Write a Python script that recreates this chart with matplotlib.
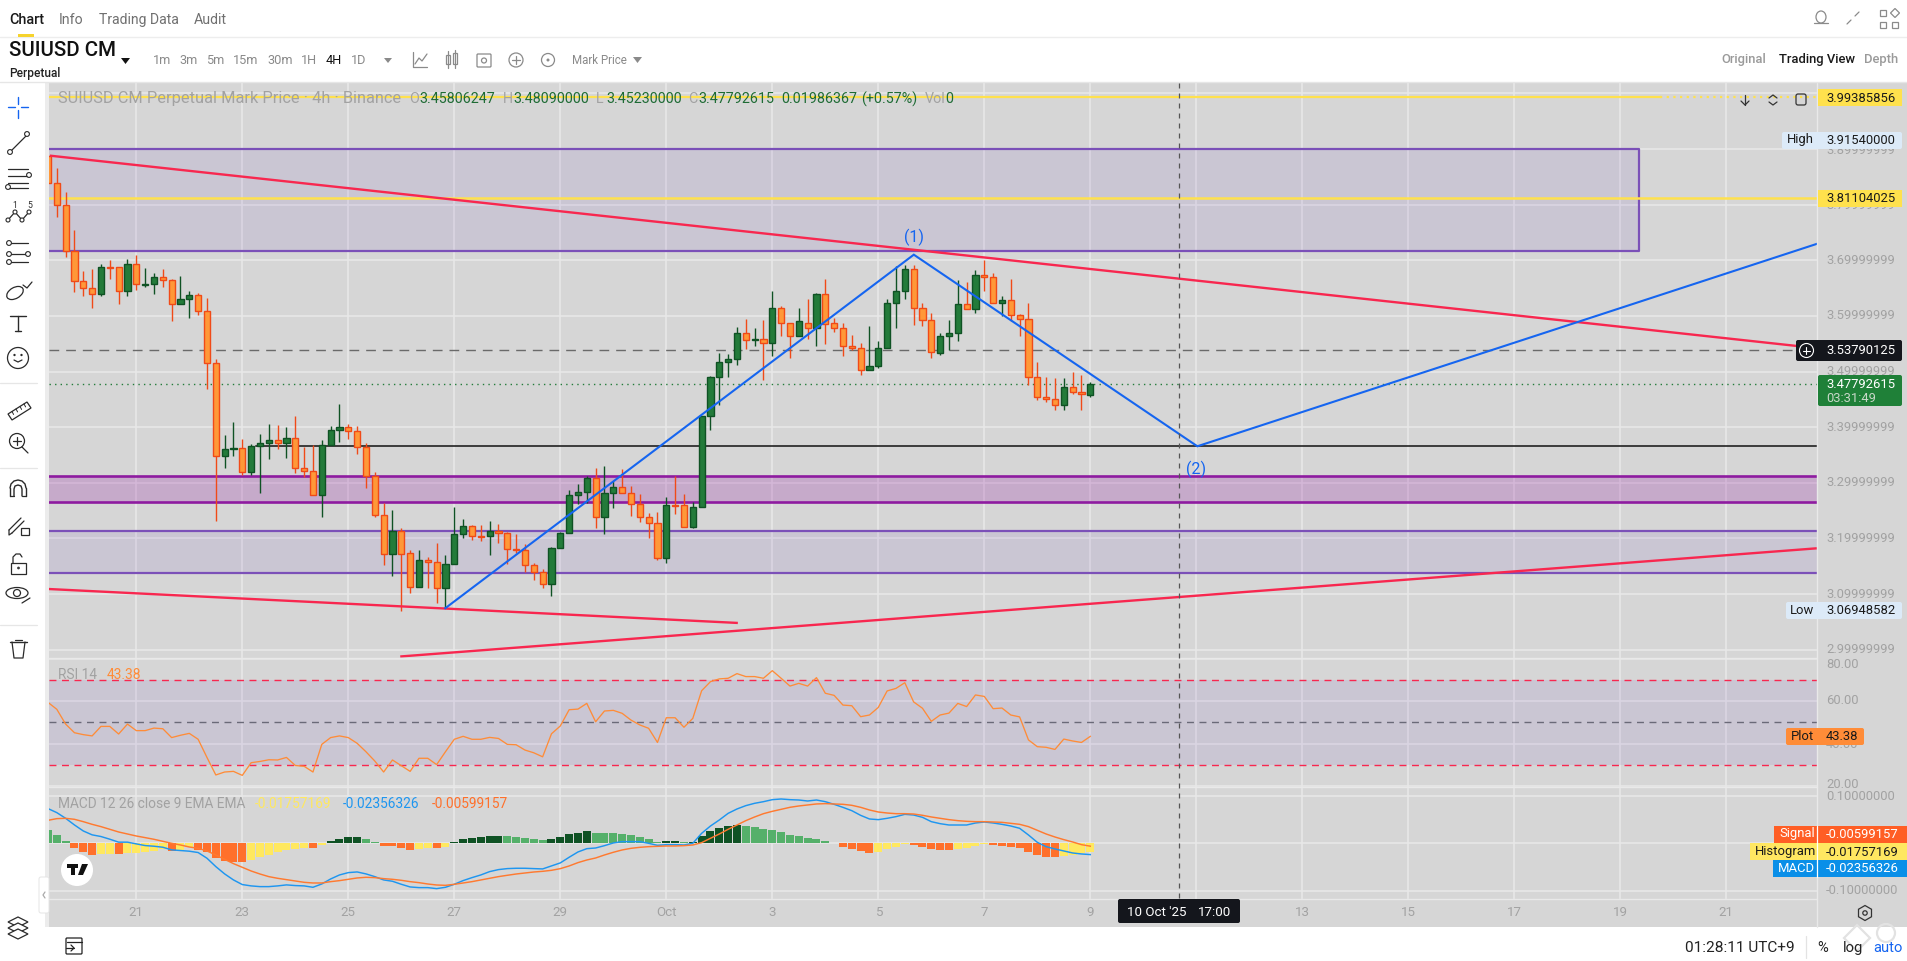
import matplotlib
matplotlib.use("Agg")
import matplotlib.pyplot as plt
from matplotlib.patches import Rectangle, Circle, FancyBboxPatch, Polygon, Ellipse, RegularPolygon

plt.rcParams['font.family'] = ['Roboto', 'DejaVu Sans']

# ---------- data ----------
open_ = [3.888,3.838,3.799,3.716,3.662,3.650,3.639,3.687,3.687,3.644,3.694,3.656,3.657,3.669,3.664,3.621,3.630,3.637,3.608,3.515,
 3.348,3.360,3.362,3.319,3.366,3.371,3.376,3.371,3.380,3.326,3.321,3.278,3.367,3.394,3.400,3.393,3.364,3.312,3.242,3.172,
 3.213,3.173,3.112,3.161,3.157,3.110,3.154,3.207,3.222,3.204,3.204,3.213,3.209,3.181,3.179,3.152,3.139,3.118,3.182,3.209,
 3.278,3.283,3.308,3.238,3.281,3.292,3.281,3.261,3.238,3.227,3.164,3.260,3.260,3.220,3.256,3.420,3.490,3.517,3.522,3.569,
 3.556,3.558,3.552,3.615,3.587,3.563,3.588,3.578,3.639,3.587,3.579,3.545,3.543,3.502,3.509,3.542,3.623,3.644,3.684,3.614,
 3.592,3.533,3.563,3.570,3.621,3.612,3.673,3.669,3.623,3.628,3.601,3.594,3.490,3.454,3.450,3.439,3.473,3.463,3.458]
high = [3.890,3.865,3.823,3.754,3.680,3.685,3.693,3.700,3.687,3.703,3.709,3.686,3.677,3.684,3.667,3.672,3.644,3.641,3.632,3.522,
 3.385,3.409,3.378,3.369,3.388,3.406,3.404,3.400,3.420,3.365,3.367,3.377,3.402,3.442,3.406,3.402,3.371,3.319,3.264,3.251,
 3.218,3.179,3.179,3.166,3.192,3.170,3.257,3.234,3.224,3.224,3.231,3.226,3.211,3.208,3.190,3.155,3.145,3.185,3.212,3.287,
 3.298,3.313,3.327,3.330,3.303,3.324,3.294,3.279,3.245,3.248,3.275,3.312,3.279,3.265,3.420,3.492,3.533,3.531,3.580,3.594,
 3.578,3.593,3.645,3.618,3.587,3.614,3.630,3.642,3.667,3.597,3.587,3.565,3.551,3.581,3.554,3.630,3.689,3.691,3.691,3.623,
 3.606,3.569,3.593,3.664,3.660,3.682,3.700,3.677,3.635,3.667,3.603,3.623,3.517,3.490,3.488,3.488,3.500,3.493,3.481]
low = [3.838,3.778,3.706,3.643,3.635,3.615,3.636,3.667,3.622,3.636,3.647,3.652,3.640,3.651,3.590,3.621,3.597,3.602,3.469,3.232,
 3.327,3.349,3.314,3.314,3.282,3.343,3.361,3.345,3.318,3.311,3.278,3.239,3.367,3.374,3.378,3.351,3.290,3.239,3.153,3.133,
 3.0695,3.101,3.112,3.110,3.083,3.074,3.154,3.201,3.198,3.196,3.171,3.191,3.154,3.173,3.139,3.126,3.110,3.097,3.182,3.209,
 3.261,3.263,3.219,3.207,3.254,3.281,3.241,3.230,3.201,3.161,3.155,3.243,3.220,3.218,3.256,3.394,3.440,3.491,3.512,3.541,
 3.546,3.484,3.527,3.563,3.525,3.563,3.558,3.545,3.550,3.571,3.527,3.538,3.494,3.502,3.507,3.542,3.579,3.631,3.584,3.581,
 3.525,3.529,3.539,3.554,3.612,3.606,3.644,3.623,3.599,3.590,3.564,3.476,3.448,3.445,3.431,3.430,3.459,3.431,3.454]
close = [3.838,3.799,3.716,3.662,3.650,3.639,3.687,3.686,3.644,3.694,3.657,3.657,3.669,3.664,3.621,3.630,3.637,3.608,3.515,3.348,
 3.360,3.362,3.319,3.366,3.371,3.376,3.371,3.380,3.326,3.321,3.278,3.367,3.394,3.400,3.393,3.364,3.312,3.242,3.172,3.213,
 3.172,3.112,3.161,3.157,3.110,3.154,3.207,3.222,3.204,3.203,3.213,3.209,3.181,3.179,3.152,3.139,3.118,3.182,3.209,3.278,
 3.283,3.308,3.238,3.281,3.292,3.281,3.261,3.238,3.227,3.164,3.260,3.259,3.220,3.256,3.420,3.490,3.517,3.522,3.569,3.556,
 3.558,3.552,3.615,3.587,3.563,3.590,3.578,3.639,3.585,3.579,3.545,3.543,3.502,3.509,3.542,3.623,3.644,3.684,3.614,3.592,
 3.535,3.563,3.570,3.621,3.612,3.673,3.669,3.623,3.628,3.601,3.594,3.490,3.454,3.450,3.439,3.473,3.463,3.459,3.4779]
rsi = [59.5,56.2,49.2,45.1,44.2,43.6,48.1,48.1,44.5,49.2,46.1,46.1,47.3,47.0,42.8,43.9,44.8,42.0,33.4,25.1,
 26.5,26.8,24.9,30.9,31.5,32.3,32.2,33.4,29.6,29.2,26.5,39.6,42.8,43.6,42.8,40.1,36.1,31.7,26.5,32.2,
 29.5,26.8,33.0,33.0,30.0,36.1,42.0,43.4,42.0,42.0,42.9,42.4,39.6,39.4,36.9,35.6,33.7,44.6,48.3,56.0,
 56.3,59.0,50.3,55.4,55.7,54.3,51.1,48.8,47.2,40.5,52.2,52.2,47.7,51.9,65.0,69.3,70.6,70.9,73.1,71.7,
 71.7,70.9,74.5,70.9,67.2,68.5,67.2,71.2,63.8,62.8,58.2,57.9,52.7,53.5,57.1,64.9,66.1,68.8,59.7,56.7,
 50.5,53.5,54.4,59.0,57.5,63.0,62.3,56.5,56.8,53.5,52.6,41.7,38.5,38.2,37.2,42.1,41.2,40.5,43.38]
hist = [.0279,.0174,.0049,-.0098,-.0181,-.0244,-.0223,-.0223,-.0223,-.0209,-.0209,-.0174,-.0160,-.0125,-.0160,-.0139,-.0084,-.0139,-.0174,-.0307,
 -.0369,-.0390,-.0390,-.0349,-.0286,-.0244,-.0174,-.0139,-.0118,-.0098,-.0098,-.0035,.0049,.0091,.0132,.0132,.0091,.0028,-.0049,-.0063,
 -.0098,-.0139,-.0118,-.0105,-.0098,-.0077,.0028,.0091,.0112,.0132,.0153,.0153,.0153,.0132,.0112,.0091,.0070,.0091,.0132,.0195,
 .0216,.0258,.0216,.0216,.0216,.0195,.0174,.0132,.0091,.0028,.0049,.0049,.0028,.0028,.0153,.0258,.0321,.0362,.0383,.0362,
 .0341,.0300,.0279,.0237,.0174,.0153,.0112,.0091,.0049,.0007,-.0077,-.0118,-.0160,-.0202,-.0181,-.0118,-.0077,-.0007,-.0035,-.0077,
 -.0118,-.0139,-.0139,-.0118,-.0098,-.0056,-.0007,-.0035,-.0056,-.0077,-.0098,-.0181,-.0244,-.0286,-.0286,-.0265,-.0244,-.0209,-.0176]
hist_kind = ("LLLOOOYYOYYYYYOYYOOOOOOYYYYYYYOYDDDDLLOOOOYYOYDDDDDDLLLLLDDDDDL"
             "LLLLLLL" "DD" "L" "DDDDDD" "LLLLLLLLLLL" "OOOO" "YYYY" "OOOOO" "YYYY" "OOOOOOOO" "YYYY")
macd = [.0727,.0642,.0523,.0384,.0258,.0177,.0142,.0086,.0024,.0024,-.0012,-.0047,-.0061,-.0082,-.0137,-.0151,-.0165,-.0193,-.0312,-.0487,
 -.0640,-.0766,-.0863,-.0891,-.0906,-.0906,-.0891,-.0870,-.0884,-.0891,-.0920,-.0850,-.0746,-.0662,-.0613,-.0599,-.0640,-.0697,-.0766,-.0794,
 -.0857,-.0913,-.0927,-.0927,-.0948,-.0920,-.0857,-.0780,-.0718,-.0662,-.0592,-.0550,-.0529,-.0522,-.0522,-.0529,-.0536,-.0473,-.0410,-.0292,
 -.0181,-.0112,-.0098,-.0049,.0007,.0035,.0035,.0035,0,-.0042,-.0028,-.0028,-.0035,0,.0209,.0362,.0488,.0627,.0718,.0788,
 .0837,.0871,.0913,.0927,.0913,.0906,.0885,.0906,.0871,.0815,.0752,.0683,.0585,.0509,.0495,.0523,.0558,.0606,.0592,.0544,
 .0453,.0411,.0383,.0383,.0383,.0425,.0446,.0425,.0397,.0362,.0314,.0174,.0021,-.0070,-.0118,-.0160,-.0202,-.0223,-.0236]
signal = [.0481,.0516,.0523,.0502,.0453,.0397,.0349,.0293,.0237,.0195,.0153,.0119,.0084,.0042,0,-.0035,-.0077,-.0105,-.0160,-.0244,
 -.0335,-.0425,-.0502,-.0579,-.0642,-.0697,-.0732,-.0760,-.0788,-.0816,-.0830,-.0830,-.0802,-.0781,-.0753,-.0725,-.0711,-.0718,-.0739,-.0753,
 -.0774,-.0802,-.0823,-.0851,-.0872,-.0879,-.0858,-.0830,-.0802,-.0767,-.0732,-.0697,-.0669,-.0642,-.0621,-.0600,-.0586,-.0565,-.0530,-.0474,
 -.0404,-.0349,-.0307,-.0244,-.0188,-.0139,-.0105,-.0084,-.0070,-.0063,-.0056,-.0056,-.0049,-.0035,.0014,.0105,.0195,.0293,.0383,.0474,
 .0551,.0620,.0669,.0711,.0753,.0781,.0802,.0823,.0830,.0823,.0816,.0795,.0753,.0697,.0655,.0634,.0620,.0620,.0613,.0586,
 .0551,.0523,.0495,.0474,.0460,.0453,.0453,.0446,.0439,.0418,.0397,.0349,.0272,.0195,.0132,.0077,.0028,-.0028,-.0060]

last_day = 39.0                    # 9 Oct, on a continuous day axis where Oct 1 = 31
candle_days = 1 / 6
days = [last_day - (len(close) - 1 - i) * candle_days for i in range(len(close))]

date_ticks = [21, 23, 25, 27, 29, 31, 33, 35, 37, 39, 41, 43, 45, 47, 49, 51]
date_labels = ['21', '23', '25', '27', '29', 'Oct', '3', '5', '7', '9', '11', '13', '15', '17', '19', '21']
price_ticks = [3.0, 3.1, 3.2, 3.3, 3.4, 3.5, 3.6, 3.7, 3.8, 3.9, 4.0]
rsi_ticks = [20, 40, 60, 80]
macd_ticks = [-0.1, 0, 0.1]

yellow_levels = [3.99385856, 3.81104025]
last_price = 3.47792615
cross_price = 3.53790125
cross_day = 40.68
support_level = 3.3656
support_from = 23.26
zone_upper = (3.9, 3.7166, 19.0, 49.35)
zone_magenta = (3.3123, 3.2662)
zone_purple = (3.2135, 3.1386)
trend_top = ([19.37, 52.33], [3.888, 3.5459])
trend_low = ([19.35, 32.35], [3.109, 3.048])
trend_rise = ([25.98, 52.71], [2.9877, 3.1822])
wave_days = [26.83, 35.67, 41.02, 52.72]
wave_price = [3.0745, 3.710, 3.3656, 3.7298]

# ---------- layout ----------
W, H = 1908, 961
L, R, TOP, M1, M2, M3, BOT = 49, 1817, 83, 658, 787, 899, 927
PANEL = '#D6D6D6'; GRID = '#E9E9E9'; GREY = '#A2A2A2'
UP, UPE = '#237B3A', '#0F5224'
DN, DNE = '#FF9838', '#F04A18'
RED = '#F8274F'; BLUE = '#1565F0'
XLIM = (21 + (L - 136.3) / 53, 21 + (R - 136.3) / 53)

fig = plt.figure(figsize=(W / 100, H / 100), dpi=100, facecolor='white')

def panel(y0, y1, ylim):
    ax = fig.add_axes([L / W, 1 - y1 / H, (R - L) / W, (y1 - y0) / H], facecolor=PANEL)
    ax.set_xlim(*XLIM); ax.set_ylim(*ylim)
    for s in ax.spines.values():
        s.set_visible(False)
    ax.set_xticks([]); ax.set_yticks([])
    for d in date_ticks:
        ax.axvline(d, color=GRID, lw=1.1, zorder=0)
    return ax

# ----- price panel
ax = panel(TOP, M1, (2.985, 4.0186))
for p in price_ticks:
    ax.axhline(p, color=GRID, lw=1.1, zorder=0)
PURPLE, MAG = '#7B50B8', '#8E1BA0'
t, b, a, e = zone_upper
ax.fill_between([a, e], b, t, color='#7E57C2', alpha=.125, lw=0, zorder=1)
ax.plot([a, e, e, a, a], [t, t, b, b, t], color=PURPLE, lw=1.6, zorder=1.2, clip_on=True)
ax.axhspan(zone_magenta[1], zone_magenta[0], color='#941CA3', alpha=.235, lw=0, zorder=1)
for v in zone_magenta:
    ax.axhline(v, color=MAG, lw=1.9, zorder=1.2)
ax.axhspan(zone_purple[1], zone_purple[0], color='#7E57C2', alpha=.125, lw=0, zorder=1)
for v in zone_purple:
    ax.axhline(v, color=PURPLE, lw=1.6, zorder=1.2)
ax.plot([XLIM[0], 49.75], [yellow_levels[0]] * 2, color='#FFE14D', lw=1.6, zorder=1.5)
ax.plot([49.75, XLIM[1]], [yellow_levels[0]] * 2, color='#FFE14D', lw=1.6, ls=(0, (1, 2)), zorder=1.5)
ax.axhline(yellow_levels[1], color='#FFE14D', lw=1.8, zorder=1.5)
ax.axhline(cross_price, color='#6A6A6A', lw=1.0, ls=(0, (7, 5)), zorder=1.6)
ax.axhline(last_price, color='#237B3A', lw=1.0, ls=(0, (1, 3)), zorder=1.6)
ax.plot([support_from, XLIM[1]], [support_level] * 2, color='#111111', lw=1.1, zorder=1.7)

ax.vlines([d for d, o, c in zip(days, open_, close) if c >= o],
          [l for l, o, c in zip(low, open_, close) if c >= o],
          [h for h, o, c in zip(high, open_, close) if c >= o], color=UPE, lw=1.0, zorder=3)
ax.vlines([d for d, o, c in zip(days, open_, close) if c < o],
          [l for l, o, c in zip(low, open_, close) if c < o],
          [h for h, o, c in zip(high, open_, close) if c < o], color=DNE, lw=1.0, zorder=3)
for d, o, c in zip(days, open_, close):
    up = c >= o
    ax.bar(d, abs(c - o), bottom=min(o, c), width=0.115, color=UP if up else DN,
           edgecolor=UPE if up else DNE, lw=1.0, zorder=3.2)

for xs, ys in (trend_top, trend_low, trend_rise):
    ax.plot(xs, ys, color=RED, lw=1.7, zorder=4, solid_capstyle='butt')
ax.plot(wave_days, wave_price, color=BLUE, lw=1.5, zorder=4.2, solid_joinstyle='miter')
ax.text(wave_days[1], wave_price[1] + .016, '(1)', color=BLUE, fontsize=11.5, ha='center', va='bottom', zorder=5)
ax.text(wave_days[2] - .02, wave_price[2] - .026, '(2)', color=BLUE, fontsize=11.5, ha='center', va='top', zorder=5)

# ----- RSI panel
ax2 = panel(M1, M2, (19.4, 80.5))
for r in rsi_ticks:
    ax2.axhline(r, color=GRID, lw=1.1, zorder=0)
ax2.axhspan(30, 70, color='#7E57C2', alpha=.125, lw=0, zorder=1)
for r in (30, 70):
    ax2.axhline(r, color=RED, lw=1.0, ls=(0, (5, 4)), zorder=2)
ax2.axhline(50, color='#6A6A78', lw=1.0, ls=(0, (5, 4)), zorder=2)
ax2.plot(days, rsi, color='#FF8C38', lw=0.95, zorder=3)

# ----- MACD panel
ax3 = panel(M2, M3, (-0.1165, 0.1178))
for m in macd_ticks:
    ax3.axhline(m, color=GRID, lw=1.1, zorder=0)
kinds = {'D': '#0F5224', 'L': '#55B06A', 'O': '#FF702B', 'Y': '#FFE85F'}
ax3.bar(days, hist, width=0.15, color=[kinds[k] for k in hist_kind], lw=0, zorder=2)
ax3.plot(days, macd, color='#1E96F0', lw=1.05, zorder=3)
ax3.plot(days, signal, color='#FF7A30', lw=1.05, zorder=3.2)

# ---------- overlay for the page furniture ----------
ov = fig.add_axes([0, 0, 1, 1], facecolor='none', zorder=20)
ov.set_xlim(0, W); ov.set_ylim(H, 0); ov.axis('off')

def rect(x0, y0, x1, y1, c, z=1, **k):
    ov.add_patch(Rectangle((x0, y0), x1 - x0, y1 - y0, fc=c, ec='none', zorder=z, **k))
def box(x0, y0, x1, y1, c, z=2):
    ov.add_patch(FancyBboxPatch((x0 + 2, y0 + 2), x1 - x0 - 4, y1 - y0 - 4, boxstyle='round,pad=2',
                                fc=c, ec='none', zorder=z))
def txt(x, y, s, c='#1A1A1A', fs=9.4, ha='left', w='normal', z=5, **k):
    ov.text(x, y, s, color=c, fontsize=fs, ha=ha, va='center', fontweight=w, zorder=z, **k)
def ln(xs, ys, c='#2A2A2A', lw=0.9, z=4, **k):
    ov.plot(xs, ys, color=c, lw=lw, zorder=z, solid_capstyle='round', **k)

rect(R, TOP, W, BOT, PANEL, z=0.5)      # right scale column
rect(L, M3, R, BOT, PANEL, z=0.5)       # time axis row
rect(45, TOP, L, BOT, '#ECECEC', z=0.5)
for y in (M1, M2):
    ln([L, R], [y, y], GRID, 1.0, z=0.8)
ln([L, R], [M3, M3], GRID, 1.0, z=0.8)
ln([R, R], [TOP, BOT], GRID, 1.0, z=0.8)
ln([0, W], [37, 37], '#EDEDED', 1.0, z=0.8)
ln([0, W], [82, 82], '#E6E6E6', 1.0, z=0.8)

# tabs
txt(9, 20, 'Chart', '#1A1A1A', 10.4, w='medium')
txt(59, 20, 'Info', '#707070', 10.2)
txt(99, 20, 'Trading Data', '#707070', 10.1)
txt(194, 20, 'Audit', '#707070', 10.2)
rect(18, 34, 34, 36.5, '#F6D32D')
txt(9, 51, 'SUIUSD CM', '#111111', 14.8, w='medium')
txt(9, 74, 'Perpetual', '#222222', 8.6, w='medium')
ov.add_patch(Polygon([[121, 58], [130, 58], [125.5, 64]], fc='#111111', zorder=4))
for x, s, c in zip([153, 179, 206, 233, 267, 301, 326, 351],
                   ['1m', '3m', '5m', '15m', '30m', '1H', '4H', '1D'],
                   ['#8A8A8A'] * 6 + ['#111111', '#8A8A8A']):
    txt(x, 60, s, c, 9.2)
ov.add_patch(Polygon([[384, 58], [392, 58], [388, 63]], fc='#8A8A8A', zorder=4))
txt(572, 60, 'Mark Price', '#8A8A8A', 8.3)
ov.add_patch(Polygon([[633, 57], [642, 57], [637.5, 63]], fc='#8A8A8A', zorder=4))
txt(1721, 60, 'Original', '#9A9A9A', 9.4, w='medium')
txt(1779, 60, 'Trading View', '#1A1A1A', 9.4, w='medium')
txt(1864, 60, 'Depth', '#9A9A9A', 9.4, w='medium')
# header icons
G = '#8A8A8A'
ln([413, 413, 427], [52, 67, 67], G); ln([415, 419, 422, 427], [64, 58, 61, 54], G)
ov.add_patch(Rectangle((446, 55), 4, 9, fc='none', ec=G, lw=.9, zorder=4)); ov.add_patch(Rectangle((453, 53), 4, 11, fc='none', ec=G, lw=.9, zorder=4))
ln([448, 448], [51, 68], G); ln([455, 455], [50, 68], G)
ov.add_patch(FancyBboxPatch((478, 55), 12, 11, boxstyle='round,pad=1', fc='none', ec=G, lw=.9, zorder=4)); ov.add_patch(Circle((484, 60.5), 2.5, fc='none', ec=G, lw=.9, zorder=4))
ov.add_patch(Circle((516, 60), 7, fc='none', ec=G, lw=.9, zorder=4)); ln([512, 520], [60, 60], G); ln([516, 516], [56, 64], G)
ov.add_patch(Circle((548, 60), 6.5, fc='none', ec=G, lw=.9, zorder=4)); ov.add_patch(Circle((548, 60), 1.5, fc=G, ec='none', zorder=4))
# top right icons
ov.add_patch(Ellipse((1821, 17), 10, 12, fc='none', ec=G, lw=.9, zorder=4)); ln([1814, 1828], [23, 23], G)
ln([1847, 1851], [24, 20], G); ln([1855, 1859], [16, 12], G)
for xx, yy in ((1880, 10), (1892, 22), (1880, 22)):
    ov.add_patch(Rectangle((xx, yy), 6, 6, fc='none', ec=G, lw=.9, zorder=4))
ov.add_patch(RegularPolygon((1895, 13), 4, radius=4.5, fc='none', ec=G, lw=.9, zorder=4))

# legend rows
txt(58, 99, 'SUIUSD CM Perpetual Mark Price · 4h · Binance', GREY, 11.75)
GR = '#1E6B34'
for x, lab, val in ((409, 'O', '3.45806247'), (503, 'H', '3.48090000'), (596, 'L', '3.45230000'), (688, 'C', '3.47792615')):
    txt(x, 99, lab, GREY, 10.3); txt(x + 10.5, 99, val, GR, 10.3)
txt(781, 99, '0.01986367', GR, 10.3)
txt(861, 99, '(+0.57%)', GR, 10.3)
txt(925, 99, 'Vol', GREY, 10.3); txt(945, 99, '0', GR, 10.3)
txt(58, 675, 'RSI 14', GREY, 9.9)
txt(107, 675, '43.38', '#FF8C38', 9.9)
txt(58, 804, 'MACD 12 26 close 9 EMA EMA', GREY, 9.9)
txt(255, 804, '-0.01757169', '#FFE85F', 9.9)
txt(343, 804, '-0.02356326', '#1E96F0', 9.9)
txt(432, 804, '-0.00599157', '#FF702B', 9.9)

# panel tool icons
ln([1745, 1745], [95, 105], '#333333'); ln([1741, 1745, 1749], [101, 105, 101], '#333333')
ln([1769, 1773, 1777], [98, 95, 98], '#333333'); ln([1769, 1773, 1777], [102, 105, 102], '#333333')
ov.add_patch(FancyBboxPatch((1798, 96), 6, 7, boxstyle='round,pad=2', fc='none', ec='#333333', lw=.9, zorder=4))

# right scale
VX = 1826
for p in price_ticks[:-1]:
    y = 149 + (3.9 - p) * 556.3
    txt(VX, y + (1 if p >= 3.8 else 0), f'{p - 1e-8:.8f}', GREY, 9.4, z=1)
rect(1818, 89, 1902, 106, '#FFE14D', 2)
txt(VX, 98, '3.99385856', '#1A1A1A')
box(1782, 132, 1902, 149, '#DCEAF8')
txt(1787, 140, 'High', '#1A1A1A'); txt(VX, 141, '3.91540000', '#1A1A1A')
rect(1818, 190, 1902, 207, '#FFE14D', 2)
txt(VX, 199, '3.81104025', '#1A1A1A')
box(1796, 340, 1902, 361, '#14161C')
ov.add_patch(Circle((1806.5, 350.5), 7, fc='none', ec='white', lw=.8, zorder=4))
ln([1803, 1810], [350.5, 350.5], 'white', .8); ln([1806.5, 1806.5], [347, 354], 'white', .8)
txt(VX, 351, '3.53790125', 'white')
box(1818, 375, 1902, 406, '#1F8038')
txt(VX, 384, '3.47792615', 'white'); txt(VX, 398, '03:31:49', '#C8D8C8')
box(1786, 602, 1902, 619, '#DCEAF8')
txt(1790, 610, 'Low', '#1A1A1A'); txt(VX, 610, '3.06948582', '#1A1A1A')
for r, y in ((60, 701), (40, 745)):
    txt(VX, y, f'{r:.2f}', GREY, 9.4, z=1)
ov.text(VX, 664, '80.00', color=GREY, fontsize=9.4, va='center', zorder=1,
        clip_path=Rectangle((R, M1), 91, 20, transform=ov.transData), clip_on=True)
ov.text(VX, 784, '20.00', color=GREY, fontsize=9.4, va='center', zorder=1,
        clip_path=Rectangle((R, 770), 91, 17, transform=ov.transData), clip_on=True)
box(1786, 728, 1864, 745, '#FF8C38')
txt(1791, 736, 'Plot', '#1A1A1A'); txt(VX, 737, '43.38', '#1A1A1A')
txt(VX, 796, '0.10000000', GREY, 9.4, z=1)
txt(VX, 891, '-0.10000000', GREY, 9.4, z=1)
rect(1774, 826, W, 843, '#FF5E25', 2); txt(1779, 834, 'Signal', 'white'); txt(VX, 835, '-0.00599157', 'white')
rect(1750, 843, W, 860, '#FFE761', 2); txt(1755, 851, 'Histogram', '#1A1A1A'); txt(VX, 852, '-0.01757169', '#1A1A1A')
rect(1773, 860, W, 877, '#0A8FE8', 2); txt(1778, 868, 'MACD', 'white'); txt(VX, 869, '-0.02356326', 'white')
ln([R, R], [826, 877], 'white', .9, z=3)
ov.add_patch(RegularPolygon((1865, 913), 6, radius=7.5, fc='none', ec='#333333', lw=.9, zorder=4))
ov.add_patch(Circle((1865, 913), 2.2, fc='none', ec='#333333', lw=.9, zorder=4))

# date axis
for d, s in zip(date_ticks, date_labels):
    x = 136.3 + (d - 21) * 53
    txt(x, 913, s, GREY, 9.6, ha='center', z=1)
cx = 136.3 + (cross_day - 21) * 53
ln([cx, cx], [TOP, M3], '#555555', .9, z=3, ls=(0, (4, 4)))
box(1118, 899, 1240, 923, '#14161C')
txt(1127, 912, "10 Oct '25", 'white', 9.6)
txt(1198, 912, '17:00', 'white', 9.6)

# bottom bar
txt(1795, 948, '01:28:11 UTC+9', '#222222', 11.1, ha='right')
ln([1806, 1806], [936, 958], '#E3E3E3', .9)
txt(1823, 948, '%', '#222222', 10.6, ha='center')
txt(1853, 948, 'log', '#222222', 10.6, ha='center')
txt(1888, 948, 'auto', '#1565F0', 10.6, ha='center')
ov.add_patch(RegularPolygon((1857, 938), 4, radius=13, fc='none', ec='#E2E2E2', lw=1.6, zorder=4))
ov.add_patch(Circle((1886, 933), 9, fc='none', ec='#E2E2E2', lw=1.6, zorder=4))
ov.add_patch(FancyBboxPatch((67, 939), 14, 14, boxstyle='round,pad=1', fc='none', ec='#222222', lw=.9, zorder=4))
ln([67, 82], [942, 942], '#222222'); ln([66, 74], [948, 948], '#222222'); ln([71, 74, 71], [945, 948, 951], '#222222')

# TradingView badge
ov.add_patch(Circle((77, 870), 16, fc='white', ec='none', zorder=4))
ov.add_patch(Rectangle((67, 864), 11, 3.5, fc='#111111', zorder=5)); ov.add_patch(Rectangle((71, 864), 4, 11, fc='#111111', zorder=5))
ov.add_patch(Polygon([[82, 864], [88, 864], [83, 875], [78, 875]], fc='#111111', zorder=5))

# collapse pill
ov.add_patch(FancyBboxPatch((41, 879), 6, 32, boxstyle='round,pad=2', fc='white', ec='#E5E5E5', lw=.7, zorder=4))
ln([45, 43, 45], [892, 895, 898], '#AAAAAA')

# left toolbar
T = '#2A2A2A'; C = 18
def dot(x, y, r=2.4):
    ov.add_patch(Circle((x, y), r, fc='white', ec=T, lw=.8, zorder=5))
# crosshair
ln([C - 10, C - 3], [107, 107], BLUE, 1.0); ln([C + 3, C + 10], [107, 107], BLUE, 1.0)
ln([C, C], [97, 104], BLUE, 1.0); ln([C, C], [110, 118], BLUE, 1.0)
# trend
ln([10, 28], [152, 134], T); dot(10, 152); dot(27, 134)
# fib
for y, a0, a1 in ((169, 8, 28), (176, 8, 28), (183, 8, 28), (188, 8, 28)):
    ln([a0, a1], [y, y], T)
dot(29, 175); dot(8, 187)
# pattern
ln([8, 15, 22, 29], [220, 212, 220, 212], T)
for x_, y_ in ((8, 220), (15, 212), (22, 220), (29, 212)):
    dot(x_, y_, 2)
txt(15, 205, '1', T, 6.2, ha='center'); txt(30, 205, '5', T, 6.2, ha='center')
# parallel
for y in (243, 254, 262):
    ln([9, 28], [y, y], T)
dot(9, 243); dot(9, 254); dot(9, 262); dot(28, 254)
# brush
ov.add_patch(Ellipse((15, 293), 18, 11, angle=-30, fc='none', ec=T, lw=.9, zorder=4))
ln([23, 27, 32], [285, 288, 282], T)
# text
ln([10, 26], [316, 316], T, 1.0); ln([18, 18], [316, 331], T, 1.0); ln([15, 21], [331, 331], T, 1.0)
# smile
ov.add_patch(Circle((18, 358), 10.5, fc='none', ec=T, lw=.9, zorder=4))
ln([14, 18, 22], [360, 362, 360], T); dot(14.5, 355, .6); dot(21.5, 355, .6)
ln([0, 37], [383, 383], '#E6E6E6', .9)
# ruler
ov.add_patch(Polygon([[8, 414], [27, 402], [31, 408], [12, 420]], fc='none', ec=T, lw=.9, zorder=4))
for k in (12, 16, 20, 24):
    ln([k, k + 1.6], [414 - (k - 8) * .63, 417 - (k - 8) * .63], T, .7)
# zoom
ov.add_patch(Circle((17, 441), 7.5, fc='none', ec=T, lw=.9, zorder=4))
ln([13, 21], [441, 441], T); ln([17, 17], [437, 445], T); ln([22, 28], [447, 453], T)
ln([0, 37], [468, 468], '#E6E6E6', .9)
# magnet
ln([10, 10], [496, 488], T, 1.0); ln([26, 26], [496, 488], T, 1.0)
ln([10, 11, 14, 18, 22, 25, 26], [488, 484, 481, 480, 481, 484, 488], T, 1.0)
ln([14, 14, 15, 18, 21, 22, 22], [496, 489, 486, 485, 486, 489, 496], T, 1.0)
ln([10, 14], [496, 496], T); ln([22, 26], [496, 496], T)
# pencil lock
ln([9, 21], [530, 518], T); ln([12, 24], [533, 521], T); ln([9, 9, 12], [530, 535, 533], T)
ov.add_patch(Rectangle((21, 528), 8, 7, fc='none', ec=T, lw=.9, zorder=4))
# lock
ov.add_patch(Rectangle((11, 563), 15, 11, fc='none', ec=T, lw=.9, zorder=4))
ln([13, 13, 16, 20, 22], [563, 557, 554, 554, 557], T); dot(18.5, 568, .8)
# eye
ov.add_patch(Ellipse((17, 593), 22, 11, fc='none', ec=T, lw=.9, zorder=4))
ov.add_patch(Circle((17, 593), 3.5, fc='none', ec=T, lw=.9, zorder=4))
ln([22, 30], [603, 598], T)
ln([0, 37], [625, 625], '#E6E6E6', .9)
# trash
ln([10, 27], [642, 642], T, 1.0); ln([12, 14, 23, 25], [642, 658, 658, 642], T); ln([15, 22], [640, 640], T)
# layers
for y in (922, 928, 934):
    ov.add_patch(Polygon([[8, y], [18, y - 5], [28, y], [18, y + 5]], fc='white', ec=T, lw=.9, zorder=4))

fig.savefig('out.png', dpi=100, facecolor='white')
